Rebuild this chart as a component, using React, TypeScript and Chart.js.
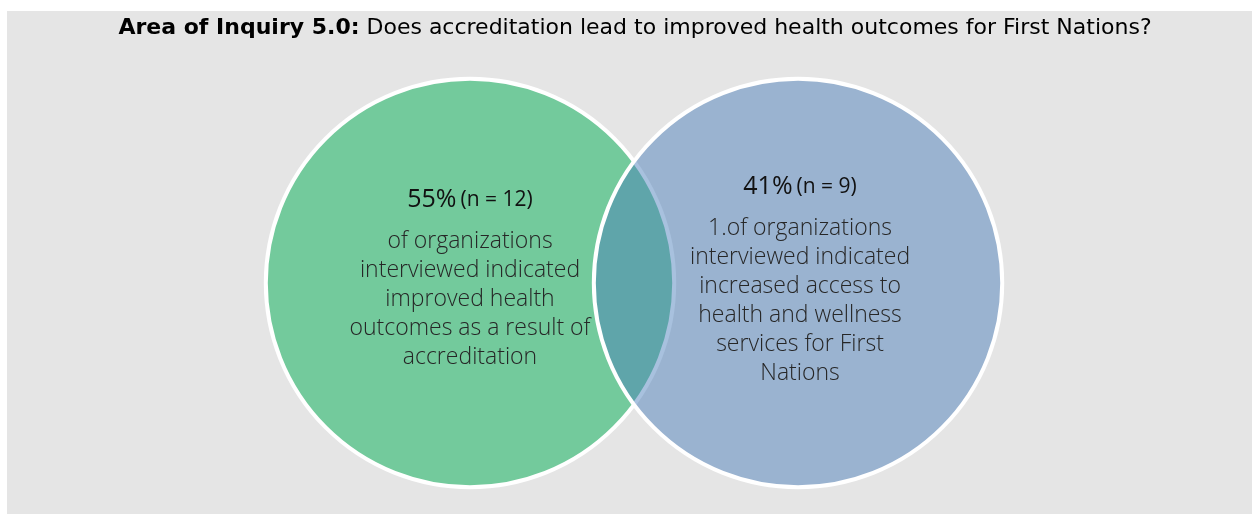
import React, { useEffect, useRef } from "react";
import { Chart, registerables } from "chart.js";

Chart.register(...registerables);

const titleBold = "Area of Inquiry 5.0:";
const titleRest = " Does accreditation lead to improved health outcomes for First Nations?";

const setNames = ["Improved health outcomes", "Increased access"];
const setCenters = [-1, 1];
const setRadius = 1.245;
const setPercents = ["55%", "41%"];
const setCounts = ["(n = 12)", "(n = 9)"];
const setLines = [
  ["of organizations", "interviewed indicated", "improved health", "outcomes as a result of", "accreditation"],
  ["1.of organizations", "interviewed indicated", "increased access to", "health and wellness", "services for First", "Nations"],
];
const setFills = ["rgb(115,202,156)", "rgba(73,125,185,0.48)"];
const setOrder = [2, 1];

const BG = "#E5E5E5";
const FONT = "'Open Sans', 'DejaVu Sans', sans-serif";
const TITLE_FONT = "'DejaVu Sans', sans-serif";

const radiusPx = (chart: any) => {
  const s = chart.scales.x;
  return Math.abs(s.getPixelForValue(setRadius) - s.getPixelForValue(0));
};

const vennPlugin = {
  id: "vennText",
  beforeDraw(chart: any) {
    const { ctx, width, height } = chart;
    ctx.save();
    ctx.fillStyle = BG;
    ctx.fillRect(0, 0, width, height);
    ctx.restore();
  },
  afterDatasetsDraw(chart: any) {
    const { ctx } = chart;
    const xs = chart.scales.x;
    const ys = chart.scales.y;
    const r = radiusPx(chart);
    const cy = ys.getPixelForValue(0);
    const x0 = xs.getPixelForValue(setCenters[0]);
    const x1 = xs.getPixelForValue(setCenters[1]);

    // text in circles
    const headOff = [-83, -96];
    const lineOff = [-42, -55];
    const centersPx = [x0, x1 + 2];
    ctx.save();
    ctx.textBaseline = "middle";
    for (let i = 0; i < 2; i++) {
      const cx = centersPx[i];
      const f1 = `400 25px ${FONT}`;
      const f2 = `400 21px ${FONT}`;
      ctx.font = f1;
      const w1 = ctx.measureText(setPercents[i]).width;
      ctx.font = f2;
      const gap = 4;
      const w2 = ctx.measureText(setCounts[i]).width;
      const total = w1 + gap + w2;
      const sx = cx - total / 2;
      ctx.fillStyle = "#111111";
      ctx.textAlign = "left";
      ctx.font = f1;
      ctx.fillText(setPercents[i], sx, cy + headOff[i]);
      ctx.font = f2;
      ctx.fillText(setCounts[i], sx + w1 + gap, cy + headOff[i]);
      ctx.font = `300 23px ${FONT}`;
      ctx.fillStyle = "#262626";
      ctx.textAlign = "center";
      setLines[i].forEach((ln, k) => {
        ctx.fillText(ln, cx, cy + lineOff[i] + k * 29);
      });
    }
    ctx.restore();

    // title
    ctx.save();
    ctx.textBaseline = "middle";
    ctx.textAlign = "left";
    const target = 1070;
    ctx.font = `bold 20px ${TITLE_FONT}`;
    const bw = ctx.measureText(titleBold).width;
    ctx.font = `20px ${TITLE_FONT}`;
    const rw = ctx.measureText(titleRest).width;
    const size = Math.min(22, (20 * target) / (bw + rw));
    ctx.font = `bold ${size}px ${TITLE_FONT}`;
    const bw2 = ctx.measureText(titleBold).width;
    ctx.font = `${size}px ${TITLE_FONT}`;
    const rw2 = ctx.measureText(titleRest).width;
    const tx = 628 - (bw2 + rw2) / 2;
    const ty = 17;
    ctx.fillStyle = "#000000";
    ctx.font = `bold ${size}px ${TITLE_FONT}`;
    ctx.fillText(titleBold, tx, ty);
    ctx.font = `${size}px ${TITLE_FONT}`;
    ctx.fillText(titleRest, tx + bw2, ty);
    ctx.restore();
  },
};

export default function App() {
  const ref = useRef<HTMLCanvasElement | null>(null);
  useEffect(() => {
    if (!ref.current) return;
    const chart = new Chart(ref.current, {
      type: "scatter",
      data: {
        datasets: setNames.map((name, i) => ({
          label: name,
          data: [{ x: setCenters[i], y: 0 }],
          order: setOrder[i],
          backgroundColor: setFills[i],
          borderColor: "#FFFFFF",
          borderWidth: 4,
          pointRadius: (c: any) => radiusPx(c.chart),
          pointHoverRadius: (c: any) => radiusPx(c.chart),
          pointStyle: "circle",
        })),
      },
      options: {
        animation: false,
        responsive: true,
        maintainAspectRatio: false,
        events: [],
        layout: { padding: 0 },
        plugins: {
          legend: { display: false },
          tooltip: { enabled: false },
          title: { display: false },
        },
        scales: {
          x: { type: "linear", display: false, min: -3.823, max: 3.768 },
          y: { type: "linear", display: false, min: -1.409, max: 1.659 },
        },
      },
      plugins: [vennPlugin],
    });
    return () => chart.destroy();
  }, []);
  return (
    <div style={{ position: "absolute", left: 0, top: 0, width: 1252, height: 514, background: "#FFFFFF" }}>
      <div style={{ position: "absolute", left: 7, top: 11, width: 1245, height: 503 }}>
        <canvas ref={ref} />
      </div>
    </div>
  );
}
